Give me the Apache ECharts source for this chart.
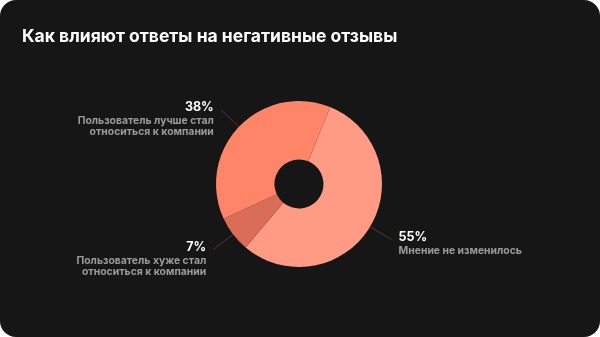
<!DOCTYPE html>
<html><head><meta charset="utf-8">
<script src="https://cdn.jsdelivr.net/npm/echarts@6/dist/echarts.min.js"></script>
<style>
html,body{margin:0;padding:0;background:#ffffff;}
#c{width:600px;height:337px;background:#161616;border-radius:16px;overflow:hidden;}
</style></head><body>
<div id="c"></div>
<script>
const titleText = 'Как влияют ответы на негативные отзывы';
const categories = ['Мнение не изменилось', 'Пользователь хуже стал\nотноситься к компании', 'Пользователь лучше стал\nотноситься к компании'];
const values = [55, 7, 38];
const colors = ['#FF9A85', '#D96D58', '#FF8569'];

const chart = echarts.init(document.getElementById('c'), null, {renderer:'canvas'});
chart.setOption({
  backgroundColor: 'transparent',
  title: {
    text: titleText, left: 17, top: 23,
    textStyle: {color:'#ffffff', fontFamily:'Inter', fontWeight:'bold', fontSize:17.5}
  },
  series: [{
    type: 'pie',
    center: [299, 184],
    radius: [24.5, 83],
    startAngle: 68,
    clockwise: true,
    silent: true,
    data: categories.map((n,i)=>({name:n, value:values[i], itemStyle:{color:colors[i]}})),
    label: {
      show: true,
      position: 'outside',
      formatter: p => '{p|' + p.value + '%}\n{n|' + p.name + '}',
      rich: {
        p: {color:'#ffffff', fontFamily:'Inter', fontWeight:'bold', fontSize:12.5, lineHeight:16},
        n: {color:'#9a9a9a', fontFamily:'Inter', fontWeight:'bold', fontSize:10.4, lineHeight:11}
      },
      distanceToLabelLine: 7
    },
    labelLine: {
      show: true, length: 25, length2: 0,
      lineStyle: {color:'#5a3530', width:1}
    },
    labelLayout: function(params){
      return {verticalAlign:'top', dy: -10};
    }
  }]
});
</script>
</body></html>
